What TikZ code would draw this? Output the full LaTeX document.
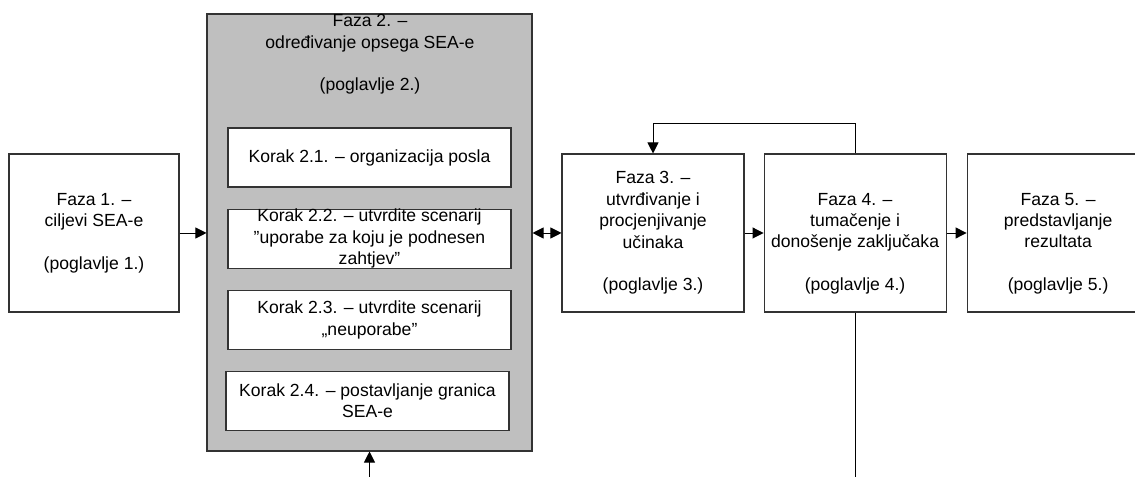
\documentclass[tikz,border=0pt]{standalone}
\usepackage{fontspec}
\setmainfont{Liberation Sans}
\usetikzlibrary{arrows.meta,positioning}

\begin{document}
\begin{tikzpicture}[
  every node/.style={font=\fontsize{10}{12.2}\selectfont, align=center},
  faza/.style={draw=black!80, line width=0.6pt, fill=white, minimum width=3.64cm, minimum height=3.16cm, inner sep=0pt},
  korak/.style={draw=black!80, line width=0.6pt, fill=white, minimum width=5.66cm, minimum height=1.18cm, inner sep=0pt},
  arr/.style={-{Triangle[length=2.2mm,width=2.2mm]}, line width=0.55pt},
  dblarr/.style={{Triangle[length=2.2mm,width=2.2mm]}-{Triangle[length=2.2mm,width=2.2mm]}, line width=0.55pt}
]
\useasboundingbox (0,0) rectangle (22.70,9.54);
\coordinate (bot) at (0,0);

% Faza 1
\node[faza, minimum width=3.40cm] (f1) at (1.88,4.88) {Faza 1. –\\ciljevi SEA-e\\[12.2pt](poglavlje 1.)};

% Faza 2 with its steps
\node[draw=black!80, line width=0.6pt, fill=black!25, minimum width=6.50cm, minimum height=8.74cm, inner sep=0pt] (f2) at (7.39,4.89) {};
\node (f2txt) at (7.40,8.45) {Faza 2. –\\određivanje opsega SEA-e\\[12.2pt](poglavlje 2.)};
\node[korak] (k1) at (7.39,6.39) {Korak 2.1. – organizacija posla};
\node[korak, below=0.42cm of k1] (k2) {Korak 2.2. – utvrdite scenarij\\”uporabe za koju je podnesen\\zahtjev”};
\node[korak, below=0.42cm of k2] (k3) {Korak 2.3. – utvrdite scenarij\\„neuporabe”};
\node[korak, below=0.42cm of k3, xshift=-0.04cm] (k4) {Korak 2.4. – postavljanje granica\\SEA-e};

% Faza 3 to 5
\node[faza] (f3) at (13.06,4.88) {Faza 3. –\\utvrđivanje i\\procjenjivanje\\učinaka\\[12.2pt](poglavlje 3.)};
\node[faza, right=0.38cm of f3] (f4) {\vphantom{F}\\Faza 4. –\\tumačenje i\\donošenje zaključaka\\[12.2pt](poglavlje 4.)};
\node[faza, right=0.40cm of f4] (f5) {\vphantom{F}\\Faza 5. –\\predstavljanje\\rezultata\\[12.2pt](poglavlje 5.)};

% Connectors
\draw[arr] (f1.east) -- (f1.east -| f2.west);
\draw[dblarr] (f2.east |- f3.west) -- (f3.west);
\draw[arr] (f3) -- (f4);
\draw[arr] (f4) -- (f5);
\draw[arr] (f4.north) -- ++(0,0.6) -| (f3.north);
\draw[arr] (f2.south |- bot) -- (f2.south);
\draw (f4.south) -- (f4.south |- bot);
\end{tikzpicture}
\end{document}
